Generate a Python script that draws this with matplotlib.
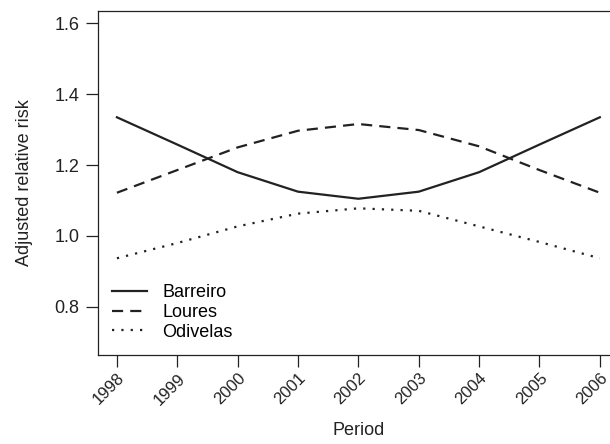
import matplotlib
matplotlib.use("Agg")
import matplotlib.pyplot as plt

plt.rcParams['font.family'] = ['Liberation Sans', 'DejaVu Sans']

years = [1998, 1999, 2000, 2001, 2002, 2003, 2004, 2005, 2006]
barreiro = [1.335, 1.258, 1.180, 1.125, 1.105, 1.125, 1.180, 1.258, 1.335]
loures = [1.122, 1.186, 1.250, 1.297, 1.316, 1.299, 1.253, 1.186, 1.122]
odivelas = [0.937, 0.980, 1.027, 1.063, 1.078, 1.071, 1.027, 0.983, 0.937]

ink = '#222222'
fs = 13

fig = plt.figure(figsize=(6.1, 4.44), dpi=100)
ax = fig.add_axes([0.160, 0.2005, 0.855, 0.7755])

ax.plot(years, barreiro, color=ink, lw=1.6, label='Barreiro')
ax.plot(years, loures, color=ink, lw=1.6, dashes=(5, 3.2), label='Loures')
ax.plot(years, odivelas, color=ink, lw=1.6, dashes=(1, 3.2),
        dash_capstyle='butt', label='Odivelas')

ax.set_xlim(1997.68, 2006.32)
ax.set_ylim(0.664, 1.636)
ax.set_xticks(years)
ax.set_xticklabels([str(y) for y in years], rotation=45, ha='right',
                   rotation_mode='anchor')
ax.set_yticks([0.8, 1.0, 1.2, 1.4, 1.6])
ax.set_yticklabels(['0.8', '1.0', '1.2', '1.4', '1.6'])
ax.tick_params(direction='out', length=8.3, width=0.9, colors=ink,
               labelsize=fs, labelcolor=ink, pad=5)
ax.tick_params(axis='x', pad=3, labelsize=12)
for s in ax.spines.values():
    s.set_color(ink)
    s.set_linewidth(0.9)

ax.set_xlabel('Period', fontsize=fs, color=ink, labelpad=10)
ax.set_ylabel('Adjusted relative risk', fontsize=fs, color=ink, labelpad=15)

ax.legend(loc='lower left', frameon=False, fontsize=fs, handlelength=1.95,
          handletextpad=0.85, labelspacing=0.15, borderaxespad=0.5,
          borderpad=0.3)

fig.savefig('out.png', dpi=100)
